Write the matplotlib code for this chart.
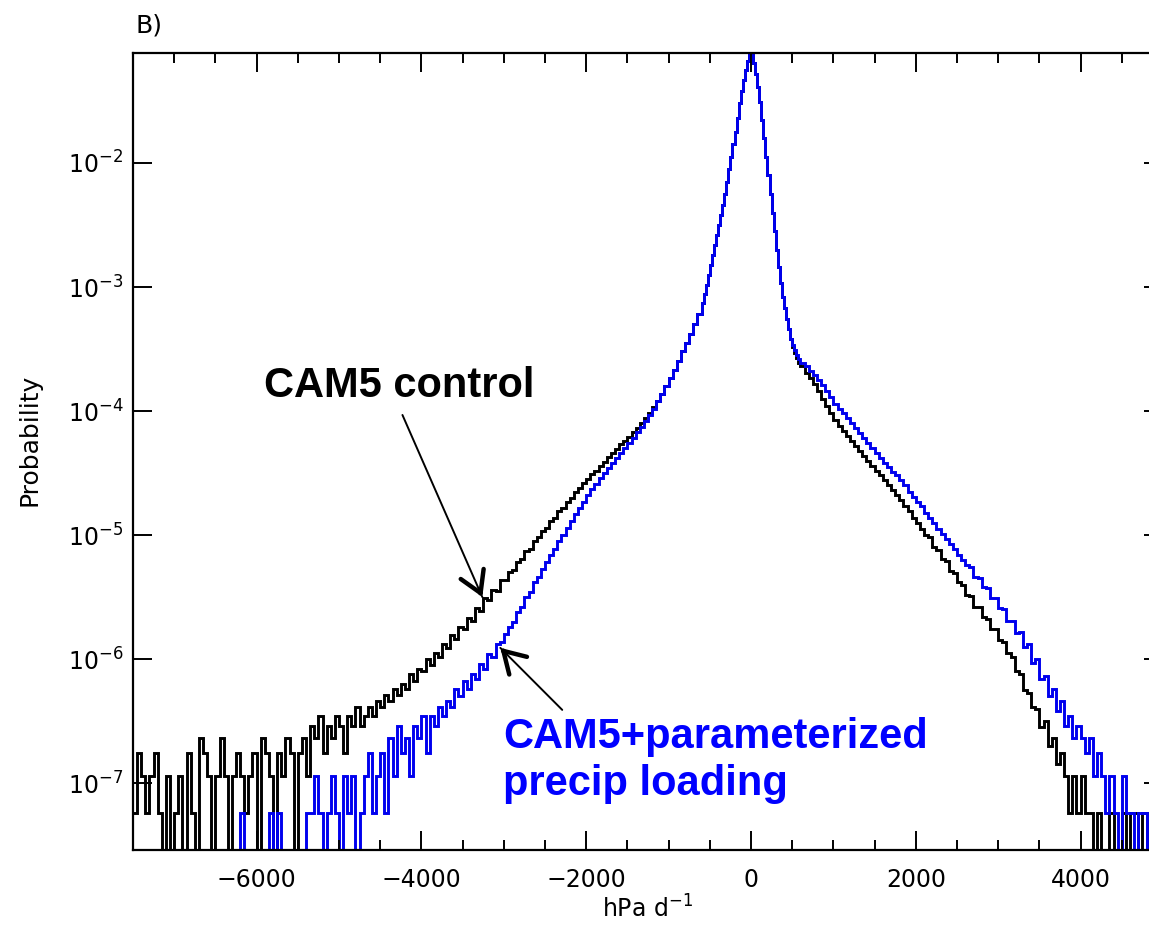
"""Vertical velocity PDF: CAM5 control vs CAM5 + parameterized precip loading."""
import numpy as np
import matplotlib
matplotlib.use("Agg")
import matplotlib.pyplot as plt
from matplotlib.ticker import MultipleLocator, NullLocator, LogLocator

E = -9.0  # empty bin (no counts) -> drawn below the axis

# bin edges (hPa/d): 50 wide in the tails, 25 wide around the peak
EDGES = np.concatenate([np.arange(-7500, -600, 50),
                        np.arange(-600, 600, 25),
                        np.arange(600, 5001, 50)])

# log10(probability)
BLACK_LEFT = [
    -7.24, -6.76, -6.94, -7.24, -6.94, -6.76, -7.24, E, -6.94, E,          # -7475 .. -7025
    -7.24, -6.94, E, -6.76, -7.24, E, -6.64, -6.76, -6.94, E,              # -6975 .. -6525
    -6.94, -6.64, -6.94, E, -6.94, -6.76, -6.94, -7.24, -6.94, -6.76,      # -6475 .. -6025
    E, -6.64, -6.76, -6.94, E, -6.76, -6.94, -6.64, -6.76, E,              # -5975 .. -5525
    -6.76, -6.64, -6.94, -6.54, -6.64, -6.46, -6.76, -6.54, -6.64, -6.46,  # -5475 .. -5025
    -6.54, -6.76, -6.46, -6.54, -6.39, -6.54, -6.46, -6.39, -6.46, -6.34,  # -4975 .. -4525
    -6.39, -6.29, -6.34, -6.24, -6.29, -6.20, -6.24, -6.12, -6.18, -6.08,  # -4475 .. -4025
    -6.10, -6.00, -6.05, -5.95, -5.98, -5.88, -5.91, -5.81, -5.84, -5.74,
    -5.76, -5.67, -5.69, -5.59, -5.61, -5.51, -5.52, -5.44, -5.45, -5.36,
    -5.36, -5.30, -5.28, -5.22, -5.19, -5.13, -5.11, -5.05, -5.02, -4.97,
    -4.94, -4.89, -4.86, -4.81, -4.78, -4.73, -4.70, -4.65, -4.62, -4.58,
    -4.55, -4.51, -4.48, -4.44, -4.41, -4.37, -4.34, -4.31, -4.27, -4.24,
    -4.21, -4.17, -4.14, -4.10, -4.06, -4.02, -3.97, -3.92, -3.86, -3.80,
    -3.73, -3.67, -3.60, -3.52, -3.45, -3.38, -3.30, -3.22,                # -975 .. -625
]
BLUE_LEFT = [
    E, E, E, E, E, E, E, E, E, E,
    E, E, E, E, E, E, E, E, E, E,
    E, E, E, E, E, E, -7.24, E, E, E,
    E, E, E, -7.24, E, -7.24, E, E, E, E,
    E, E, -7.24, -7.24, -6.94, -7.24, E, -7.24, -6.94, -7.24,
    E, -6.94, -7.24, -6.94, E, -7.24, -6.94, -6.76, -7.24, -6.94,
    -6.76, -7.24, -6.64, -6.94, -6.54, -6.76, -6.64, -6.94, -6.54, -6.64,
    -6.46, -6.76, -6.46, -6.54, -6.39, -6.46, -6.34, -6.39, -6.24, -6.30,
    -6.18, -6.24, -6.12, -6.16, -6.04, -6.08, -5.96, -5.98, -5.88, -5.86,
    -5.80, -5.74, -5.70, -5.62, -5.58, -5.50, -5.46, -5.38, -5.34, -5.27,
    -5.22, -5.16, -5.11, -5.05, -5.00, -4.94, -4.89, -4.83, -4.78, -4.73,
    -4.68, -4.63, -4.59, -4.54, -4.50, -4.46, -4.42, -4.38, -4.34, -4.30,
    -4.26, -4.22, -4.17, -4.13, -4.08, -4.03, -3.98, -3.92, -3.86, -3.80,
    -3.73, -3.67, -3.60, -3.52, -3.45, -3.38, -3.30, -3.22,
]
# -587.5 .. -12.5 (both runs overlap here)
CORE_LEFT = [-3.13, -3.06, -2.98, -2.90, -2.82, -2.74, -2.66, -2.58, -2.50, -2.42,
             -2.34, -2.25, -2.15, -2.05, -1.95, -1.85, -1.75, -1.64, -1.52, -1.42,
             -1.33, -1.25, -1.18, -1.13]
# 12.5 .. 587.5
BLACK_CORE_RIGHT = [-1.13, -1.19, -1.28, -1.39, -1.51, -1.65, -1.80, -1.95, -2.10, -2.25,
                    -2.40, -2.55, -2.70, -2.84, -2.97, -3.08, -3.17, -3.26, -3.34, -3.42,
                    -3.48, -3.53, -3.57, -3.61]
BLUE_CORE_RIGHT = [-1.13, -1.19, -1.28, -1.39, -1.51, -1.65, -1.80, -1.95, -2.10, -2.25,
                   -2.40, -2.55, -2.70, -2.84, -2.97, -3.08, -3.17, -3.26, -3.34, -3.42,
                   -3.47, -3.51, -3.55, -3.58]
BLACK_RIGHT = [
    -3.64, -3.69, -3.73, -3.78, -3.84, -3.90, -3.96, -4.02, -4.07, -4.12,  # 625 .. 1075
    -4.16, -4.20, -4.24, -4.28, -4.32, -4.36, -4.40, -4.44, -4.48, -4.52,
    -4.56, -4.60, -4.64, -4.68, -4.72, -4.77, -4.81, -4.86, -4.90, -4.95,
    -5.00, -5.02, -5.10, -5.12, -5.19, -5.21, -5.29, -5.31, -5.38, -5.40,
    -5.48, -5.49, -5.58, -5.58, -5.66, -5.68, -5.76, -5.76, -5.85, -5.86,
    -5.95, -5.98, -6.10, -6.12, -6.25, -6.27, -6.39, -6.40, -6.55, -6.50,
    -6.70, -6.64, -6.85, -6.76, -6.94, -7.24, -6.94, -7.24, -6.94, -7.24,
    -7.24, E, -7.24, E, E, -7.24, E, E, -7.24, E,
    -7.24, -7.24, E, -7.24, E, -7.24, E, E,                                # 4625 .. 4975
]
BLUE_RIGHT = [
    -3.61, -3.64, -3.68, -3.71, -3.75, -3.79, -3.84, -3.89, -3.94, -3.98,
    -4.02, -4.06, -4.10, -4.14, -4.18, -4.22, -4.26, -4.30, -4.34, -4.38,
    -4.42, -4.45, -4.49, -4.52, -4.56, -4.60, -4.65, -4.69, -4.73, -4.77,
    -4.82, -4.86, -4.90, -4.95, -4.99, -5.03, -5.07, -5.11, -5.16, -5.20,
    -5.24, -5.26, -5.34, -5.35, -5.42, -5.43, -5.51, -5.51, -5.59, -5.60,
    -5.69, -5.69, -5.79, -5.78, -5.90, -5.88, -6.03, -6.00, -6.16, -6.14,
    -6.30, -6.24, -6.42, -6.34, -6.54, -6.46, -6.64, -6.54, -6.64, -6.76,
    -6.64, -6.94, -6.76, -6.94, -7.24, -6.94, -7.24, E, -6.94, -7.24,
    -7.24, E, -7.24, -7.24, E, -7.24, E, -7.24,
]

control = 10.0 ** np.array(BLACK_LEFT + CORE_LEFT + BLACK_CORE_RIGHT + BLACK_RIGHT)
loading = 10.0 ** np.array(BLUE_LEFT + CORE_LEFT + BLUE_CORE_RIGHT + BLUE_RIGHT)

plt.rcParams["font.family"] = ["DejaVu Sans"]

W, H = 1149, 930
fig = plt.figure(figsize=(W / 100, H / 100), dpi=100)
ax = fig.add_axes([133 / W, 1 - 850 / H, 1030 / W, 797 / H])

ax.stairs(control, EDGES, baseline=None, color="black", lw=2.1)
ax.stairs(loading, EDGES, baseline=None, color="#0000ee", lw=2.1)

ax.set_yscale("log")
ax.set_xlim(-7500, 5000)
ax.set_ylim(10 ** -7.54, 10 ** -1.113)

ax.xaxis.set_major_locator(MultipleLocator(2000))
ax.xaxis.set_minor_locator(MultipleLocator(500))
ax.yaxis.set_major_locator(LogLocator(base=10, numticks=20))
ax.yaxis.set_minor_locator(NullLocator())
ax.tick_params(which="both", direction="in", top=True, right=True, width=1.4,
               labelsize=17)
ax.tick_params(which="major", length=14)
ax.tick_params(which="minor", length=7)
ax.tick_params(axis="x", pad=13)
ax.tick_params(axis="y", pad=7)
for s in ax.spines.values():
    s.set_linewidth(1.6)

ax.set_xlabel("hPa d$^{-1}$", fontsize=17)
ax.xaxis.set_label_coords(0.5, -0.057)
ax.set_ylabel("Probability", fontsize=18)
ax.yaxis.set_label_coords(-0.0893, 0.515)
fig.text(135 / W, 1 - 25 / H, "B)", fontsize=18, ha="left", va="center")

bold = dict(family="Liberation Sans", weight="bold", fontsize=30)
ax.text(-5915, 10 ** -3.887, "CAM5 control", color="black", ha="left",
        va="baseline", **bold)
ax.text(-3006, 10 ** -6.718, "CAM5+parameterized", color="blue", ha="left",
        va="baseline", **bold)
ax.text(-3006, 10 ** -7.097, "precip loading", color="blue", ha="left",
        va="baseline", **bold)


def pointer(tip, tail):
    # thin shaft plus a short, heavier open head
    ax.annotate("", xy=tip, xytext=tail,
                arrowprops=dict(arrowstyle="-", lw=1.4, color="black",
                                shrinkA=0, shrinkB=0))
    p_tip = ax.transData.transform(tip)
    p_tail = ax.transData.transform(tail)
    d = (p_tail - p_tip) / np.hypot(*(p_tail - p_tip))
    ax.annotate("", xy=tip, xytext=tuple(d * 4), textcoords="offset points",
                arrowprops=dict(arrowstyle="->,head_length=0.75,head_width=0.45",
                                lw=3.2, color="black", mutation_scale=20,
                                shrinkA=0, shrinkB=0))


pointer((-3261, 10 ** -5.50), (-4230, 10 ** -4.032))
pointer((-3042, 10 ** -5.91), (-2291, 10 ** -6.41))

fig.savefig("out.png", dpi=100)
